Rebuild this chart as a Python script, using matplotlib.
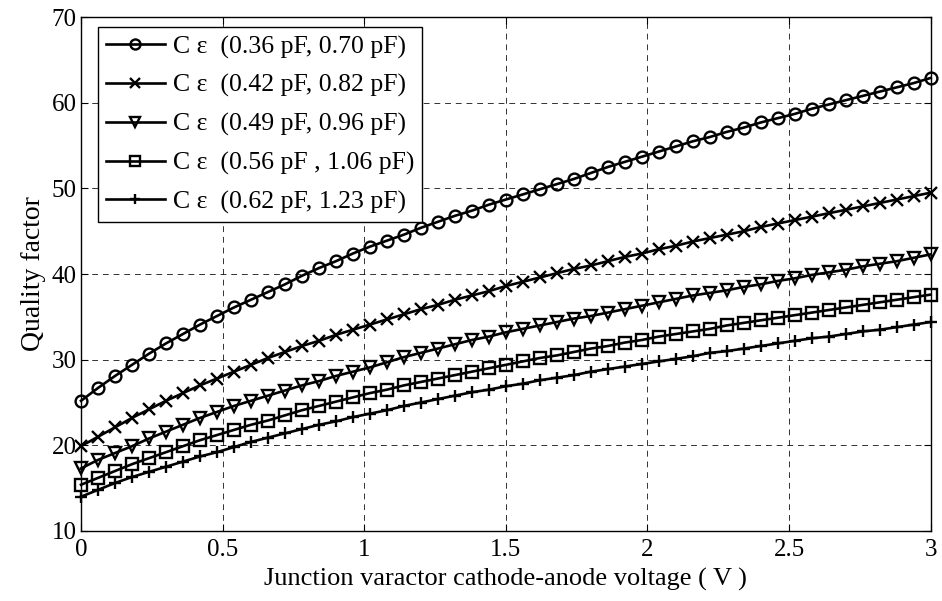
import numpy as np
from matplotlib import pyplot as plt

plt.rcParams['font.family'] = ['Liberation Serif', 'DejaVu Serif']

# bias voltage grid (51 samples, 0 .. 3 V)
volts = np.linspace(0, 3, 51)

q_036 = [25.2, 26.7, 28.1, 29.4, 30.7, 31.9, 33.0, 34.1, 35.1, 36.1,
         37.0, 37.9, 38.8, 39.8, 40.7, 41.5, 42.4, 43.2, 43.9, 44.6,
         45.4, 46.1, 46.8, 47.4, 48.1, 48.7, 49.3, 49.9, 50.5, 51.1,
         51.8, 52.5, 53.1, 53.7, 54.3, 54.9, 55.5, 56.0, 56.6, 57.1,
         57.7, 58.2, 58.7, 59.3, 59.8, 60.3, 60.8, 61.3, 61.8, 62.3, 62.9]

q_042 = [19.9, 21.0, 22.1, 23.2, 24.2, 25.2, 26.1, 27.0, 27.8, 28.6,
         29.4, 30.2, 30.9, 31.6, 32.2, 32.9, 33.5, 34.1, 34.7, 35.3,
         35.9, 36.4, 37.0, 37.5, 38.0, 38.6, 39.1, 39.6, 40.1, 40.6,
         41.0, 41.5, 42.0, 42.4, 42.9, 43.3, 43.8, 44.2, 44.6, 45.0,
         45.5, 45.9, 46.3, 46.7, 47.1, 47.5, 47.9, 48.3, 48.7, 49.1, 49.5]

q_049 = [17.3, 18.3, 19.1, 19.9, 20.8, 21.6, 22.4, 23.2, 23.9, 24.6,
         25.2, 25.8, 26.4, 27.0, 27.5, 28.1, 28.6, 29.1, 29.7, 30.3,
         30.8, 31.3, 31.8, 32.3, 32.7, 33.2, 33.6, 34.0, 34.4, 34.8,
         35.1, 35.5, 35.9, 36.3, 36.7, 37.1, 37.5, 37.8, 38.1, 38.5,
         38.8, 39.2, 39.5, 39.9, 40.2, 40.5, 40.9, 41.2, 41.5, 41.9, 42.3]

q_056 = [15.4, 16.2, 17.0, 17.8, 18.5, 19.2, 19.9, 20.6, 21.2, 21.8,
         22.4, 22.9, 23.5, 24.1, 24.6, 25.1, 25.6, 26.1, 26.5, 27.0,
         27.4, 27.8, 28.2, 28.6, 29.0, 29.4, 29.8, 30.2, 30.5, 30.9,
         31.3, 31.6, 32.0, 32.3, 32.7, 33.0, 33.3, 33.6, 34.0, 34.3,
         34.6, 34.9, 35.2, 35.5, 35.8, 36.1, 36.4, 36.7, 37.0, 37.3, 37.6]

q_062 = [14.0, 14.8, 15.6, 16.3, 16.9, 17.5, 18.1, 18.7, 19.2, 19.8,
         20.4, 20.9, 21.4, 21.9, 22.4, 22.8, 23.3, 23.7, 24.1, 24.6,
         25.0, 25.4, 25.8, 26.2, 26.5, 26.9, 27.2, 27.6, 27.9, 28.2,
         28.6, 28.9, 29.2, 29.5, 29.8, 30.1, 30.4, 30.8, 31.0, 31.3,
         31.6, 31.9, 32.2, 32.5, 32.7, 33.0, 33.3, 33.5, 33.8, 34.1, 34.4]

labels = ["C \u03b5  (0.36 pF, 0.70 pF)",
          "C \u03b5  (0.42 pF, 0.82 pF)",
          "C \u03b5  (0.49 pF, 0.96 pF)",
          "C \u03b5  (0.56 pF , 1.06 pF)",
          "C \u03b5  (0.62 pF, 1.23 pF)"]
markers = ['o', 'x', 'v', 's', '+']
series = [q_036, q_042, q_049, q_056, q_062]

fig = plt.figure(figsize=(9.42, 6.01), dpi=100)
ax = fig.add_axes([0.086, 0.1165, 0.902, 0.855])

for q, m, lab in zip(series, markers, labels):
    ax.plot(volts, q, color='k', lw=1.9, marker=m, markersize=8.5,
            markerfacecolor='none', markeredgecolor='k', markeredgewidth=1.7,
            label=lab, clip_on=False)

ax.set_xlim(0, 3)
ax.set_ylim(10, 70)
ax.set_xticks([0, 0.5, 1, 1.5, 2, 2.5, 3])
ax.set_xticklabels(['0', '0.5', '1', '1.5', '2', '2.5', '3'])
ax.set_yticks(range(10, 71, 10))
ax.grid(True, color='k', linestyle=(0, (6, 5)), linewidth=0.7, alpha=0.8)
ax.tick_params(direction='in', top=True, right=True, length=5, labelsize=18)
ax.tick_params(axis='x', pad=6)
ax.tick_params(axis='y', pad=3)
for s in ax.spines.values():
    s.set_linewidth(1.0)

ax.set_xlabel("Junction varactor cathode-anode voltage ( V )", fontsize=19, labelpad=5)
ax.set_ylabel("Quality factor", fontsize=20, labelpad=4)

leg = ax.legend(loc='upper left', bbox_to_anchor=(0.02, 0.98), borderaxespad=0,
                fontsize=18.5, frameon=True, fancybox=False,
                edgecolor='k', framealpha=1, handlelength=2.3, handletextpad=0.3,
                borderpad=0.3, labelspacing=0.6, markerscale=0.85)
leg.get_frame().set_linewidth(1.0)

fig.savefig("out.png", dpi=100)
